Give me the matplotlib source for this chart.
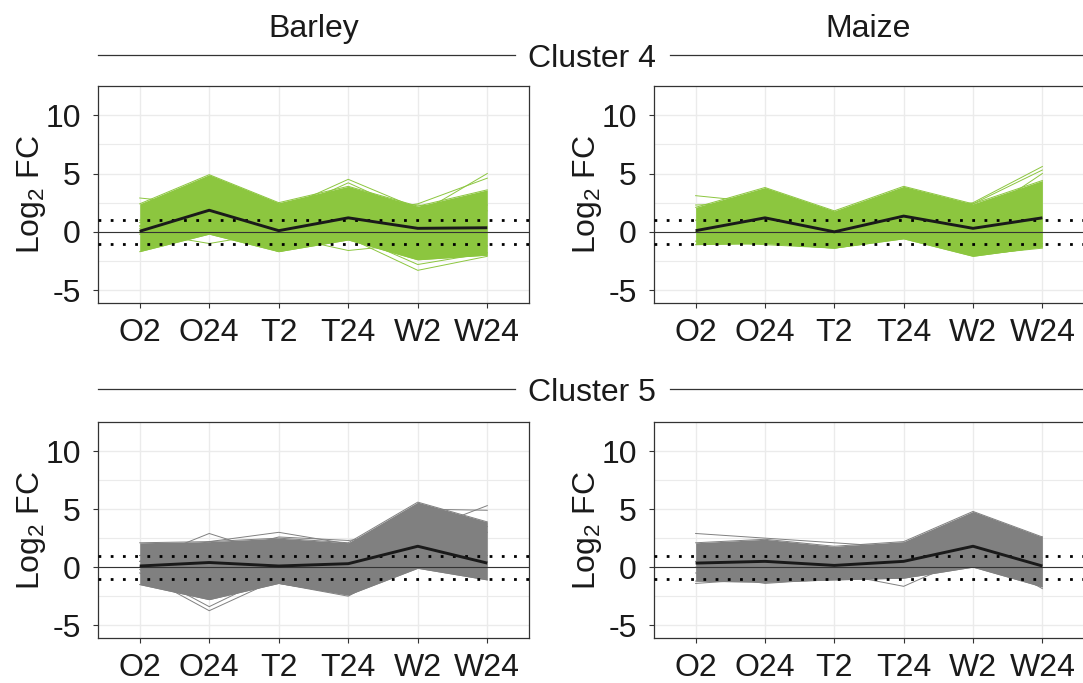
import matplotlib
matplotlib.use("Agg")
import matplotlib.pyplot as plt
from matplotlib.lines import Line2D

plt.rcParams['font.family'] = ['Liberation Sans', 'DejaVu Sans']
plt.rcParams['mathtext.fontset'] = 'custom'
plt.rcParams['mathtext.rm'] = 'Liberation Sans'
plt.rcParams['mathtext.it'] = 'Liberation Sans:italic'

# ---------------- data ----------------
conditions = ['O2', 'O24', 'T2', 'T24', 'W2', 'W24']
species = ['Barley', 'Maize']
clusters = ['Cluster 4', 'Cluster 5']
yticks = [-5, 0, 5, 10]

# Barley, cluster 4 (green)
barley_c4_upper = [2.4, 4.9, 2.5, 3.9, 2.2, 3.6]
barley_c4_lower = [-1.7, -0.2, -1.7, -0.7, -2.4, -2.0]
barley_c4_lines = [
    [2.9, 2.3, 2.2, 2.5, 2.3, 1.8],
    [0.5, 2.5, 1.8, 4.5, 2.0, 2.3],
    [0.8, 3.0, 1.5, 4.2, 1.5, 5.0],
    [1.0, 2.0, 0.5, 1.5, 2.4, 4.6],
    [0.0, -1.0, 0.0, 0.2, -0.3, 0.5],
    [0.3, 0.5, -1.7, -0.4, -0.3, -1.2],
    [-0.2, 0.2, -0.3, -1.6, -1.0, -1.8],
    [0.1, 0.3, -0.2, -0.5, -3.3, -2.1],
    [0.5, 0.5, 0.3, -0.2, -2.8, -1.8],
]
barley_c4_mean = [0.05, 1.85, 0.1, 1.2, 0.3, 0.35]

# Maize, cluster 4 (green)
maize_c4_upper = [2.1, 3.8, 1.8, 3.9, 2.4, 4.4]
maize_c4_lower = [-1.1, -1.0, -1.4, -0.6, -2.1, -1.3]
maize_c4_lines = [
    [3.1, 2.5, 1.0, 1.5, 2.5, 5.6],
    [2.3, 2.5, 1.5, 2.0, 2.4, 5.3],
    [1.0, 1.0, 0.5, 1.0, 1.0, 5.0],
    [-0.8, -1.1, -1.4, -0.5, -2.0, -1.4],
    [0.0, -0.5, -0.8, -0.3, -1.8, -1.0],
]
maize_c4_mean = [0.1, 1.2, 0.0, 1.35, 0.3, 1.2]

# Barley, cluster 5 (grey)
barley_c5_upper = [2.1, 2.2, 2.5, 2.1, 5.6, 3.9]
barley_c5_lower = [-1.5, -2.8, -1.4, -2.4, -0.1, -1.1]
barley_c5_lines = [
    [0.5, 2.9, 1.0, 1.6, 4.0, 3.0],
    [1.0, 2.2, 3.0, 2.0, 4.5, 3.5],
    [0.5, 1.0, 2.6, 2.3, 3.0, 5.3],
    [1.0, 1.5, 1.5, 1.0, 5.0, 4.9],
    [-0.5, -3.75, -1.0, -1.0, 1.0, 1.0],
    [-0.2, -3.4, -0.5, -2.3, 0.5, 0.5],
    [0.0, -1.0, -1.4, -2.5, 0.8, 0.2],
]
barley_c5_mean = [0.1, 0.4, 0.1, 0.3, 1.8, 0.35]

# Maize, cluster 5 (grey)
maize_c5_upper = [2.1, 2.4, 1.8, 2.2, 4.8, 2.6]
maize_c5_lower = [-1.2, -1.3, -1.1, -0.95, 0.0, -1.7]
maize_c5_lines = [
    [2.9, 2.5, 2.1, 1.7, 1.5, 2.6],
    [-1.4, -1.0, -0.8, -0.5, 0.5, 0.5],
    [-0.5, -1.4, -1.0, -0.8, 0.6, 0.3],
    [0.0, 0.0, -0.5, -1.65, 1.0, 0.8],
    [0.5, 0.5, 0.3, 0.0, 1.5, -1.85],
]
maize_c5_mean = [0.35, 0.5, 0.15, 0.5, 1.8, 0.1]

green = '#8CC63F'
grey = '#808080'

panels = [
    (0, 0, barley_c4_upper, barley_c4_lower, barley_c4_lines, barley_c4_mean, green),
    (0, 1, maize_c4_upper, maize_c4_lower, maize_c4_lines, maize_c4_mean, green),
    (1, 0, barley_c5_upper, barley_c5_lower, barley_c5_lines, barley_c5_mean, grey),
    (1, 1, maize_c5_upper, maize_c5_lower, maize_c5_lines, maize_c5_mean, grey),
]

# ---------------- layout ----------------
W, H = 1083, 683
fig = plt.figure(figsize=(W / 100, H / 100), dpi=100)


def px_rect(l, t, r, b):
    return [l / W, 1 - b / H, (r - l) / W, (b - t) / H]


col_lr = [(98, 529), (654, 1084)]
row_tb = [(86, 303), (422, 638)]
FS = 23
x = list(range(1, len(conditions) + 1))

for row, col, upper, lower, lines, mean, color in panels:
    l, r = col_lr[col]
    t, b = row_tb[row]
    ax = fig.add_axes(px_rect(l, t, r, b))
    ax.set_xlim(0.4, 6.6)
    ax.set_ylim(-6.1, 12.5)
    ax.set_axisbelow(True)
    ax.set_yticks(yticks)
    ax.set_yticklabels([str(v) for v in yticks])
    ax.set_yticks([-2.5, 2.5, 7.5], minor=True)
    ax.set_xticks(x)
    ax.set_xticklabels(conditions)
    ax.grid(which='major', color='#EBEBEB', lw=1.0)
    ax.grid(which='minor', axis='y', color='#EBEBEB', lw=0.8)
    ax.tick_params(which='minor', length=0)
    ax.tick_params(which='major', labelsize=FS, colors='#333333', labelcolor='#1A1A1A',
                   length=3.5, width=0.8)
    ax.tick_params(axis='x', pad=7)
    ax.tick_params(axis='y', pad=9)
    for s in ax.spines.values():
        s.set_color('#333333')
        s.set_linewidth(0.9)

    ax.fill_between(x, lower, upper, color=color, lw=0, zorder=2)
    ax.plot(x, upper, color=color, lw=0.7, zorder=2)
    ax.plot(x, lower, color=color, lw=0.7, zorder=2)
    for ln in lines:
        ax.plot(x, ln, color=color, lw=0.7, zorder=2)

    ax.axhline(0, color='#333333', lw=0.8, zorder=3)
    ax.axhline(1, color='black', lw=2.0, ls=(0, (1, 3.4)), zorder=3)
    ax.axhline(-1, color='black', lw=2.0, ls=(0, (1, 3.4)), zorder=3)
    ax.plot(x, mean, color='#1A1A1A', lw=2.1, zorder=4, solid_capstyle='butt')

    ylab = ax.set_ylabel(r'Log$_\mathregular{2}$ FC', fontsize=FS, color='#1A1A1A')
    ylab.set_verticalalignment('center')
    ylab_x = 32 if col == 0 else 587
    ax.yaxis.set_label_coords(ylab_x / W, 1 - ((t + b) / 2) / H, transform=fig.transFigure)

# species strip titles
for col, name in enumerate(species):
    cx = (98 + 529) / 2 if col == 0 else 868
    fig.text(cx / W, 1 - 37 / H, name, ha='center', va='baseline', fontsize=FS, color='#1A1A1A')

# cluster headers with lines
for name, base_y, line_y in [(clusters[0], 67, 55), (clusters[1], 401, 389)]:
    fig.text(592 / W, 1 - base_y / H, name, ha='center', va='baseline', fontsize=FS, color='#1A1A1A')
    yy = 1 - line_y / H
    fig.add_artist(Line2D([98 / W, 515 / W], [yy, yy], color='#333333', lw=0.9,
                          transform=fig.transFigure))
    fig.add_artist(Line2D([670 / W, 1083 / W], [yy, yy], color='#333333', lw=0.9,
                          transform=fig.transFigure))

fig.savefig('out.png', dpi=100)
